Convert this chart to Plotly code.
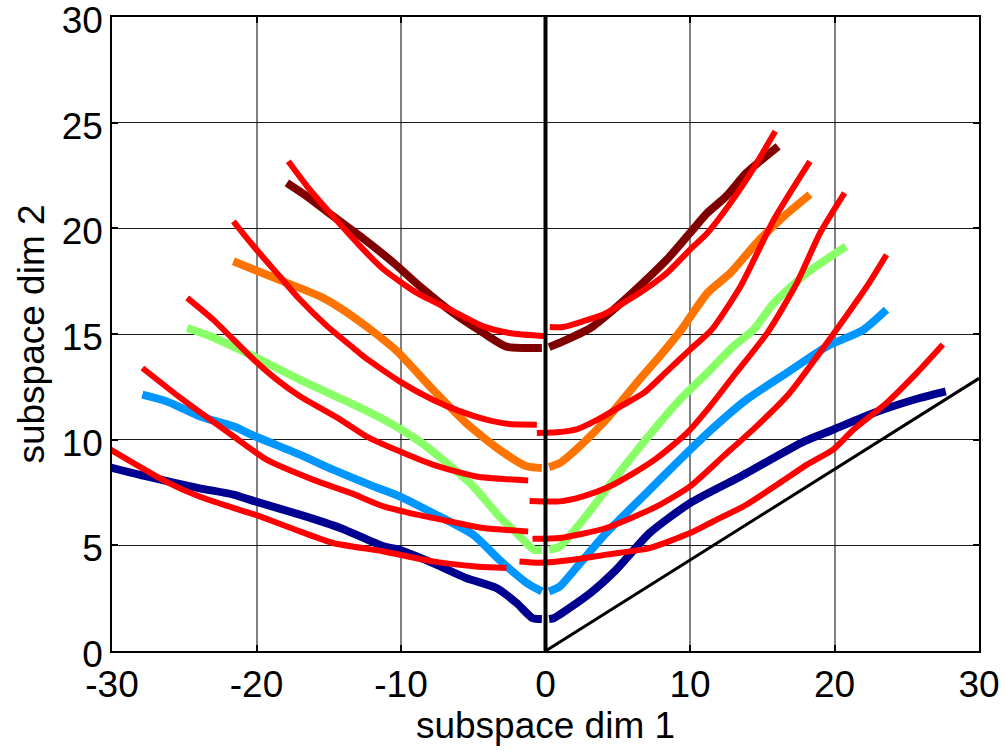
import plotly.graph_objects as go

# ---- data ----
navy_left_x = [-30.9, -27.6, -24.0, -21.6, -20.1, -17.0, -14.2, -11.2, -10.1, -7.8, -5.5, -3.4, -2.0, -0.9, -0.25]
navy_left_y = [8.82, 8.26, 7.71, 7.40, 7.08, 6.45, 5.82, 4.95, 4.79, 4.16, 3.45, 2.98, 2.27, 1.56, 1.51]
navy_right_x = [0.25, 0.6, 3.1, 4.9, 7.2, 10.0, 13.5, 17.9, 19.9, 22.7, 25.9, 27.7]
navy_right_y = [1.51, 1.56, 2.74, 3.85, 5.58, 7.00, 8.26, 9.92, 10.47, 11.26, 11.97, 12.29]

blue_left_x = [-27.9, -26.2, -23.9, -21.6, -20.1, -17.0, -14.7, -11.9, -10.1, -7.8, -5.0, -3.2, -1.3, -0.25]
blue_left_y = [12.13, 11.81, 11.10, 10.63, 10.16, 9.29, 8.58, 7.79, 7.32, 6.53, 5.50, 4.32, 3.22, 2.82]
blue_right_x = [0.25, 1.0, 2.4, 4.2, 7.0, 9.3, 11.6, 13.9, 16.7, 19.5, 22.0, 23.6]
blue_right_y = [2.82, 3.06, 4.16, 5.58, 7.48, 9.05, 10.55, 11.89, 13.16, 14.42, 15.20, 16.15]

green_left_x = [-24.8, -23.2, -20.2, -17.0, -14.0, -11.2, -8.9, -7.1, -5.0, -3.2, -2.0, -0.8, -0.25]
green_left_y = [15.28, 14.89, 13.94, 12.84, 11.89, 10.95, 10.00, 9.05, 7.79, 6.37, 5.58, 4.79, 4.79]
green_right_x = [0.25, 1.0, 2.6, 4.9, 7.5, 9.3, 11.2, 13.0, 14.4, 15.8, 18.1, 20.8]
green_right_y = [4.79, 4.95, 6.21, 8.26, 10.47, 11.89, 13.16, 14.42, 15.20, 16.47, 17.89, 19.15]

orange_left_x = [-21.6, -20.2, -17.9, -15.6, -14.2, -12.4, -10.3, -7.8, -5.5, -3.2, -1.3, -0.25]
orange_left_y = [18.44, 18.05, 17.42, 16.78, 16.23, 15.36, 14.20, 12.37, 10.79, 9.53, 8.74, 8.66]
orange_right_x = [0.25, 1.0, 2.6, 4.2, 6.5, 7.9, 9.4, 11.2, 12.8, 14.6, 16.5, 18.3]
orange_right_y = [8.70, 8.90, 9.84, 10.95, 12.84, 13.94, 15.20, 16.94, 17.89, 19.31, 20.57, 21.60]

darkred_left_x = [-17.9, -16.5, -14.7, -12.8, -10.5, -8.7, -6.4, -4.3, -2.7, -0.25]
darkred_left_y = [22.15, 21.51, 20.57, 19.62, 18.36, 17.26, 16.00, 15.05, 14.40, 14.34]
darkred_right_x = [0.25, 1.2, 3.1, 4.7, 6.5, 8.4, 10.0, 11.2, 12.5, 13.9, 16.1]
darkred_right_y = [14.38, 14.65, 15.28, 16.15, 17.26, 18.52, 19.78, 20.73, 21.51, 22.62, 23.88]

red1_left_x = [-30.1, -26.3, -24.0, -21.6, -20.1, -17.0, -14.7, -11.2, -7.8, -4.8, -2.7]
red1_left_y = [9.53, 8.03, 7.32, 6.77, 6.45, 5.66, 5.11, 4.71, 4.24, 4.00, 3.93]
red1_right_x = [-1.8, -0.4, 1.9, 4.2, 7.2, 10.0, 11.6, 13.9, 16.2, 18.1, 19.9, 21.3, 23.6, 25.7, 27.5]
red1_right_y = [4.24, 4.18, 4.32, 4.56, 4.87, 5.58, 6.13, 6.92, 7.95, 8.82, 9.53, 10.47, 11.74, 13.16, 14.50]

red2_left_x = [-27.9, -25.1, -21.6, -19.3, -16.1, -13.5, -11.2, -8.9, -6.6, -4.3, -1.2]
red2_left_y = [13.39, 11.89, 10.16, 9.05, 8.11, 7.48, 6.84, 6.45, 6.13, 5.82, 5.66]
red2_right_x = [-0.9, 1.0, 4.2, 7.7, 10.0, 12.3, 14.6, 16.9, 18.8, 20.8, 22.4, 23.6]
red2_right_y = [5.31, 5.35, 5.82, 6.84, 7.79, 9.21, 10.63, 12.21, 13.94, 15.84, 17.42, 18.75]

red3_left_x = [-24.8, -23.0, -20.2, -18.6, -17.0, -14.2, -12.4, -10.1, -7.8, -4.8, -1.2]
red3_left_y = [16.71, 15.68, 13.79, 12.84, 12.05, 10.95, 10.16, 9.45, 8.82, 8.26, 8.07]
red3_right_x = [-1.1, 1.0, 2.6, 4.2, 6.1, 7.7, 9.8, 11.2, 13.0, 15.4, 17.4, 19.0, 20.7]
red3_right_y = [7.10, 7.08, 7.32, 7.71, 8.42, 9.13, 10.32, 11.42, 13.00, 15.10, 17.42, 19.78, 21.68]

red4_left_x = [-21.6, -20.2, -18.4, -17.0, -15.1, -13.3, -12.6, -10.1, -7.8, -5.9, -4.1, -2.5, -0.6]
red4_left_y = [20.33, 19.15, 17.73, 16.63, 15.36, 14.34, 13.94, 12.76, 11.89, 11.34, 10.95, 10.74, 10.71]
red4_right_x = [-0.6, 0.8, 2.2, 3.5, 5.2, 6.8, 8.4, 10.0, 11.5, 13.5, 15.8, 18.3]
red4_right_y = [10.32, 10.35, 10.50, 10.91, 11.58, 12.21, 13.23, 14.26, 15.20, 17.26, 20.41, 23.17]

red5_left_x = [-17.8, -16.5, -14.7, -12.6, -11.2, -8.9, -6.6, -4.3, -2.5, 0.1]
red5_left_y = [23.17, 21.99, 20.57, 18.99, 18.05, 16.94, 16.15, 15.36, 15.05, 14.89]
red5_right_x = [0.3, 1.2, 2.6, 4.0, 6.5, 8.4, 10.0, 11.2, 12.8, 14.2, 15.9]
red5_right_y = [15.33, 15.33, 15.60, 15.92, 16.94, 17.89, 18.99, 19.78, 21.20, 22.62, 24.59]

vertical_x = [0, 0]
vertical_y = [0, 30]
diagonal_x = [0, 30]
diagonal_y = [0, 12.9]

x_ticks = [-30, -20, -10, 0, 10, 20, 30]
y_ticks = [0, 5, 10, 15, 20, 25, 30]
x_label = "subspace dim 1"
y_label = "subspace dim 2"

colored = [
    ("#000090", navy_left_x, navy_left_y, navy_right_x, navy_right_y),
    ("#0096FF", blue_left_x, blue_left_y, blue_right_x, blue_right_y),
    ("#88FF66", green_left_x, green_left_y, green_right_x, green_right_y),
    ("#FF7400", orange_left_x, orange_left_y, orange_right_x, orange_right_y),
    ("#800000", darkred_left_x, darkred_left_y, darkred_right_x, darkred_right_y),
]
reds = [
    (red1_left_x, red1_left_y, red1_right_x, red1_right_y),
    (red2_left_x, red2_left_y, red2_right_x, red2_right_y),
    (red3_left_x, red3_left_y, red3_right_x, red3_right_y),
    (red4_left_x, red4_left_y, red4_right_x, red4_right_y),
    (red5_left_x, red5_left_y, red5_right_x, red5_right_y),
]

fig = go.Figure()
for col, lx, ly, rx, ry in colored:
    for xs, ys in ((lx, ly), (rx, ry)):
        fig.add_trace(go.Scatter(x=xs, y=ys, mode="lines",
                                 line=dict(color=col, width=8, shape="spline", smoothing=0.6),
                                 showlegend=False, hoverinfo="skip"))
for lx, ly, rx, ry in reds:
    for xs, ys in ((lx, ly), (rx, ry)):
        fig.add_trace(go.Scatter(x=xs, y=ys, mode="lines",
                                 line=dict(color="#FF0000", width=6, shape="spline", smoothing=0.6),
                                 showlegend=False, hoverinfo="skip"))
fig.add_trace(go.Scatter(x=diagonal_x, y=diagonal_y, mode="lines",
                         line=dict(color="black", width=3), showlegend=False))
fig.add_trace(go.Scatter(x=vertical_x, y=vertical_y, mode="lines",
                         line=dict(color="black", width=4), showlegend=False))

font = dict(family="Liberation Sans, Arial, sans-serif", size=37, color="black")
fig.update_layout(
    width=1005, height=751,
    margin=dict(l=112, r=26, t=17, b=100, autoexpand=False),
    paper_bgcolor="white", plot_bgcolor="white",
    font=font,
    xaxis=dict(range=[-30, 30], tickvals=x_ticks, ticktext=[str(v) for v in x_ticks],
               showgrid=True, gridcolor="#808080", gridwidth=1.5, zeroline=False,
               showline=True, linecolor="black", linewidth=1.5, mirror="allticks",
               ticks="inside", ticklen=6, tickcolor="black", tickwidth=1.5,
               automargin=False, ticklabeloverflow="allow", ticklabelstandoff=0,
               tickfont=font, title=dict(text=x_label, font=font, standoff=8)),
    yaxis=dict(range=[0, 30], tickvals=y_ticks, ticktext=[str(v) for v in y_ticks],
               showgrid=True, gridcolor="#1a1a1a", gridwidth=1, zeroline=False,
               showline=True, linecolor="black", linewidth=1.5, mirror="allticks",
               ticks="inside", ticklen=6, tickcolor="black", tickwidth=1.5,
               automargin=False, ticklabeloverflow="allow", ticklabelshift=3,
               tickfont=font, title=dict(text=y_label, font=font, standoff=6)),
)
fig.write_html("out.html")
